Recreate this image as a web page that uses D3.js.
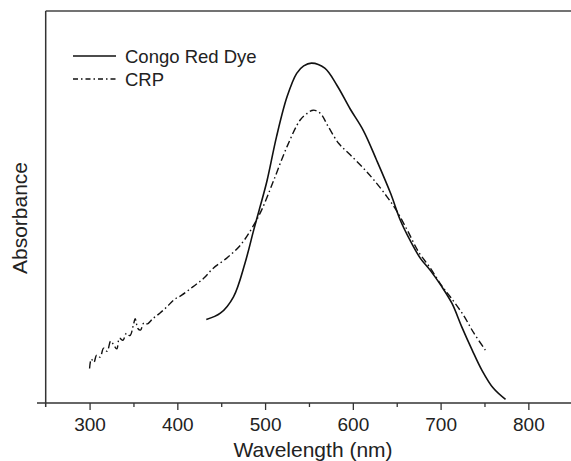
<!DOCTYPE html>
<html>
<head>
<meta charset="utf-8">
<script src="https://cdn.jsdelivr.net/npm/d3@7"></script>
<style>
  body { margin: 0; background: #fff; }
  svg { display: block; font-family: "Liberation Sans", Arial, Helvetica, sans-serif; }
</style>
</head>
<body>
<div id="chart"></div>
<script>
// absorbance spectra (arbitrary units, 0 = baseline)
const dyeWavelength = [433, 449, 464, 477, 487, 493, 502, 513, 525, 536, 544, 553, 568, 582, 597,
  612, 627, 643, 654, 665, 677, 688, 701, 713, 724, 736, 747, 760, 774];
const dyeAbsorbance = [0.213, 0.229, 0.271, 0.356, 0.441, 0.49, 0.565, 0.679, 0.781, 0.841, 0.86, 0.867, 0.854, 0.81, 0.75,
  0.695, 0.62, 0.535, 0.467, 0.416, 0.369, 0.339, 0.298, 0.254, 0.195, 0.135, 0.084, 0.038, 0.009];

const crpWavelength = [300, 302, 305, 308, 312, 316, 320, 324, 327, 331, 334, 338, 342, 346, 350, 352, 355, 358,
  362, 366, 372, 380, 388, 396, 405, 418, 430, 441, 456, 472, 485, 496, 510, 525, 540, 548, 555, 563,
  572, 584, 597, 612, 624, 639, 650, 662, 675, 688, 701, 711, 726, 738, 751];
const crpAbsorbance = [0.088, 0.112, 0.104, 0.122, 0.117, 0.14, 0.132, 0.158, 0.15, 0.138, 0.165, 0.16, 0.178, 0.172, 0.2, 0.215, 0.19, 0.186,
  0.205, 0.202, 0.215, 0.229, 0.245, 0.263, 0.275, 0.297, 0.318, 0.344, 0.369, 0.403, 0.446, 0.492, 0.569, 0.654, 0.722, 0.739, 0.747, 0.739,
  0.705, 0.662, 0.633, 0.599, 0.569, 0.526, 0.49, 0.441, 0.385, 0.345, 0.3, 0.271, 0.224, 0.178, 0.135];

const majorTicks = [300, 400, 500, 600, 700, 800];
const minorTicks = [350, 450, 550, 650, 750];

const seriesNames = ["Congo Red Dye", "CRP"];

const W = 571, H = 461;
const ink = "#222";

const svg = d3.select("#chart").append("svg")
    .attr("width", W)
    .attr("height", H);

const x = d3.scaleLinear().domain([250, 848.6]).range([45.7, 571]);
const y = d3.scaleLinear().domain([0, 1]).range([403, 11]);

// frame: top line and left axis
svg.append("line")
    .attr("x1", x(250)).attr("x2", W)
    .attr("y1", y(1)).attr("y2", y(1))
    .attr("stroke", "#444").attr("stroke-width", 1.3);
svg.append("line")
    .attr("x1", x(250)).attr("x2", x(250))
    .attr("y1", y(1)).attr("y2", y(0) + 4)
    .attr("stroke", "#333").attr("stroke-width", 1.5);

// x axis
const xAxis = svg.append("g")
    .attr("transform", "translate(0," + y(0) + ")")
    .call(d3.axisBottom(x).tickValues(majorTicks).tickSize(7).tickPadding(8).tickFormat(d3.format("d")));
xAxis.select(".domain").remove();
xAxis.selectAll(".tick line").attr("stroke", "#333").attr("stroke-width", 1.3);
xAxis.selectAll(".tick text")
    .attr("fill", ink)
    .style("font-size", "19px")
    .style("font-family", "Liberation Sans, Arial, sans-serif");

const xMinor = svg.append("g")
    .attr("transform", "translate(0," + y(0) + ")")
    .call(d3.axisBottom(x).tickValues(minorTicks).tickSize(4).tickFormat(""));
xMinor.select(".domain").remove();
xMinor.selectAll(".tick line").attr("stroke", "#333").attr("stroke-width", 1.3);

svg.append("line")
    .attr("x1", 37).attr("x2", W)
    .attr("y1", y(0)).attr("y2", y(0))
    .attr("stroke", "#333").attr("stroke-width", 1.5);

// axis titles
svg.append("text")
    .attr("x", 313).attr("y", 457)
    .attr("text-anchor", "middle")
    .attr("fill", ink)
    .style("font-size", "21px")
    .text("Wavelength (nm)");

svg.append("text")
    .attr("transform", "translate(27,218) rotate(-90)")
    .attr("text-anchor", "middle")
    .attr("fill", ink)
    .style("font-size", "21px")
    .text("Absorbance");

// curves
const dye = dyeWavelength.map((w, i) => ({w: w, a: dyeAbsorbance[i]}));
const crp = crpWavelength.map((w, i) => ({w: w, a: crpAbsorbance[i]}));

const smooth = d3.line()
    .x(d => x(d.w))
    .y(d => y(d.a))
    .curve(d3.curveCatmullRom.alpha(0.5));

svg.append("path")
    .datum(dye)
    .attr("d", smooth)
    .attr("fill", "none")
    .attr("stroke", "#111")
    .attr("stroke-width", 1.6);

svg.append("path")
    .datum(crp)
    .attr("d", smooth)
    .attr("fill", "none")
    .attr("stroke", "#111")
    .attr("stroke-width", 1.4)
    .attr("stroke-dasharray", "7,3,1.5,3");

// legend
const legend = svg.append("g");
const legendY = [56, 79];
legend.selectAll("line")
    .data(seriesNames)
    .enter().append("line")
    .attr("x1", 73).attr("x2", 116)
    .attr("y1", (d, i) => legendY[i]).attr("y2", (d, i) => legendY[i])
    .attr("stroke", "#111")
    .attr("stroke-width", (d, i) => i == 0 ? 1.6 : 1.4)
    .attr("stroke-dasharray", (d, i) => i == 0 ? null : "5,3,1.5,3");
legend.selectAll("text")
    .data(seriesNames)
    .enter().append("text")
    .attr("x", 125)
    .attr("y", (d, i) => legendY[i] + 7)
    .attr("fill", ink)
    .style("font-size", "18.5px")
    .text(d => d);
</script>
</body>
</html>
